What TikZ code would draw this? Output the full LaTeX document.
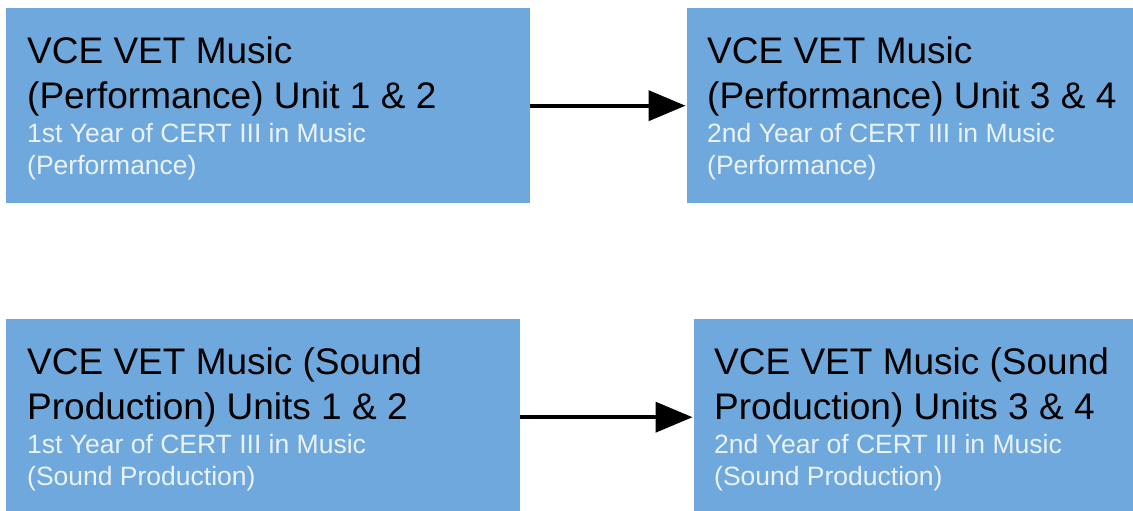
\documentclass[tikz,border=0pt]{standalone}
\usepackage{fontspec}
\setmainfont{Liberation Sans}
\usepackage{xcolor}
\usetikzlibrary{arrows.meta,positioning}

\definecolor{unitblue}{HTML}{6FA8DC}
\definecolor{certtext}{HTML}{EAF2FA}

\begin{document}
\begin{tikzpicture}[x=1pt,y=-1pt,
    unitbox/.style={rectangle,fill=unitblue,inner sep=0pt,anchor=north west,minimum height=196pt},
    unittitle/.style={inner sep=0pt,align=left,font=\fontsize{37}{44.5}\selectfont},
    certline/.style={inner sep=0pt,align=left,text=certtext,font=\fontsize{26.5}{32}\selectfont},
    nextyear/.style={line width=4pt,-{Triangle[length=37pt,width=30pt]},shorten >=1.5pt}]
\useasboundingbox (0,0) rectangle (1133,511);

% performance stream
\node[unitbox,minimum width=524pt,minimum height=195pt] (perf12) at (6,8) {};
\node[unittitle,below right=28.5pt and 21pt of perf12.north west] (perf12title)
    {VCE VET Music\\(Performance) Unit 1 \& 2};
\node[certline,below right=115.5pt and 21pt of perf12.north west] (perf12cert)
    {1st Year of CERT III in Music\\(Performance)};

\node[unitbox,minimum width=460pt,minimum height=195pt] (perf34) at (687,8) {};
\node[unittitle,below right=28.5pt and 20pt of perf34.north west] (perf34title)
    {VCE VET Music\\(Performance) Unit 3 \& 4};
\node[certline,below right=115.5pt and 20pt of perf34.north west] (perf34cert)
    {2nd Year of CERT III in Music\\(Performance)};

% sound production stream
\node[unitbox,minimum width=514pt] (sound12) at (6,319) {};
\node[unittitle,below right=28.5pt and 21pt of sound12.north west] (sound12title)
    {VCE VET Music (Sound\\Production) Units 1 \& 2};
\node[certline,below right=115pt and 21pt of sound12.north west] (sound12cert)
    {1st Year of CERT III in Music\\(Sound Production)};

\node[unitbox,minimum width=460pt] (sound34) at (694,319) {};
\node[unittitle,below right=28.5pt and 20pt of sound34.north west] (sound34title)
    {VCE VET Music (Sound\\Production) Units 3 \& 4};
\node[certline,below right=115pt and 20pt of sound34.north west] (sound34cert)
    {2nd Year of CERT III in Music\\(Sound Production)};

% year 1 -> year 2
\draw[nextyear] (perf12.east) -- (perf34.west);
\draw[nextyear] (sound12.east) -- (sound34.west);
\end{tikzpicture}
\end{document}
